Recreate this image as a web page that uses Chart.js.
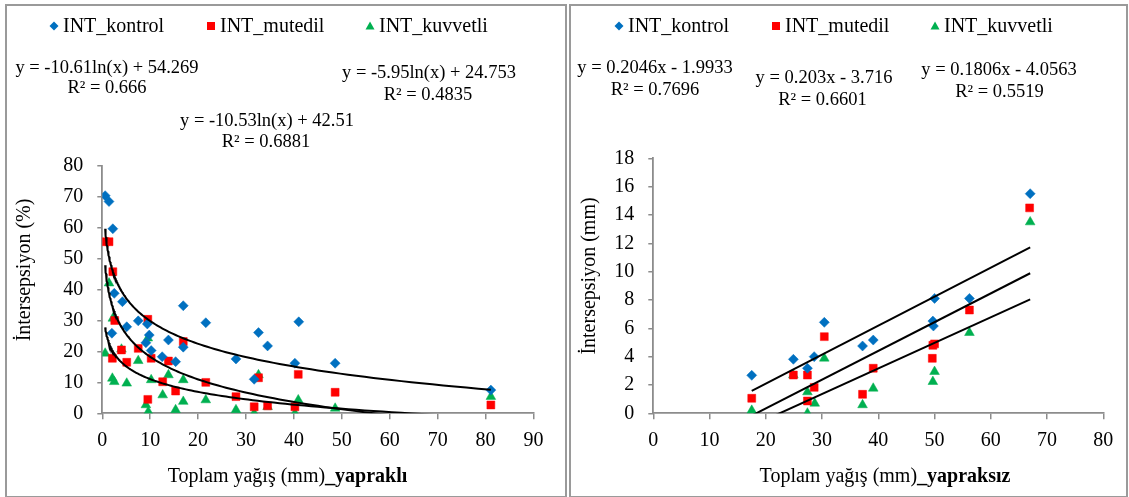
<!DOCTYPE html>
<html>
<head>
<meta charset="utf-8">
<script src="https://cdn.jsdelivr.net/npm/chart.js@4/dist/chart.umd.min.js"></script>
<style>
body{margin:0;background:#fff;}
#wrap{position:relative;width:1129px;height:497px;overflow:hidden;}
.panel{position:absolute;border:2px solid #9a9a9a;box-sizing:border-box;}
canvas{position:absolute;left:0;top:0;}
</style>
</head>
<body>
<div id="wrap">
  <div class="panel" style="left:5px;top:4px;width:562px;height:494px"></div>
  <div class="panel" style="left:569px;top:4px;width:559px;height:494px"></div>
  <canvas id="c1" width="1129" height="497"></canvas>
  <canvas id="c2" width="1129" height="497"></canvas>
</div>
<script>
// series names
const seriesNames = ['INT_kontrol', 'INT_mutedil', 'INT_kuvvetli'];

// --- yapraklı (left), intersepsiyon %
const kontrolX_L = [0.6, 1.4, 2.2, 2.5, 4.2, 2.0, 5.1, 7.5, 9.4, 9.8, 9.1, 10.2, 12.5, 15.3, 13.8, 16.9, 16.9, 21.6, 27.9, 32.6, 34.5, 31.7, 41.0, 40.2, 48.6, 81.1];
const kontrolY_L = [70.4, 68.5, 59.7, 38.8, 36.1, 25.9, 28.0, 29.9, 28.9, 25.3, 22.8, 20.3, 18.3, 16.7, 23.7, 34.8, 21.4, 29.3, 17.6, 26.1, 21.8, 11.0, 29.6, 16.2, 16.2, 7.5];
const mutedilX_L = [0.6, 1.4, 2.2, 2.6, 2.1, 4.0, 5.1, 7.5, 9.5, 10.2, 9.5, 12.6, 13.8, 15.3, 16.9, 21.6, 27.9, 31.7, 32.6, 34.5, 40.9, 40.2, 48.6, 81.1];
const mutedilY_L = [55.5, 55.5, 45.8, 30.0, 17.8, 20.5, 16.5, 21.0, 30.4, 17.8, 4.5, 10.2, 16.9, 7.2, 23.2, 10.0, 5.4, 2.1, 11.5, 2.4, 12.6, 2.1, 6.8, 2.7];
const kuvvetliX_L = [0.6, 1.4, 2.2, 2.1, 2.5, 4.0, 5.1, 7.5, 9.5, 10.2, 9.1, 9.6, 12.6, 13.8, 15.3, 16.9, 16.9, 21.6, 27.9, 31.7, 32.6, 34.5, 40.9, 40.2, 48.6, 81.1];
const kuvvetliY_L = [19.4, 42.1, 30.7, 11.3, 10.2, 20.7, 9.7, 17.0, 24.3, 10.8, 2.7, 0.5, 5.9, 12.4, 1.1, 10.8, 3.8, 4.3, 1.1, 0.0, 12.4, 2.1, 4.3, 0.0, 1.6, 5.4];
// logarithmic trend y = a ln(x) + b
const logA = [-10.61, -10.53, -5.95];
const logB = [54.269, 42.51, 24.753];
const eqL = ['y = -10.61ln(x) + 54.269', 'y = -10.53ln(x) + 42.51', 'y = -5.95ln(x) + 24.753'];
const r2L = ['R² = 0.666', 'R² = 0.6881', 'R² = 0.4835'];

// --- yapraksız (right), intersepsiyon mm
const kontrolX_R = [17.5, 24.9, 27.4, 28.6, 30.4, 37.2, 39.1, 50.0, 49.7, 49.8, 56.2, 67.0];
const kontrolY_R = [2.68, 3.81, 3.18, 4.0, 6.42, 4.75, 5.17, 8.11, 6.51, 6.16, 8.11, 15.5];
const mutedilX_R = [17.5, 24.9, 27.4, 27.4, 28.6, 30.4, 37.2, 39.1, 49.7, 50.0, 49.6, 56.2, 66.9];
const mutedilY_R = [1.06, 2.70, 2.70, 0.87, 1.83, 5.41, 1.34, 3.18, 4.8, 4.9, 3.88, 7.29, 14.5];
const kuvvetliX_R = [17.5, 24.9, 27.4, 27.4, 28.7, 30.4, 37.2, 39.1, 50.0, 49.7, 56.2, 67.0];
const kuvvetliY_R = [0.2, 2.7, 1.5, 0.0, 0.7, 3.88, 0.59, 1.76, 2.94, 2.23, 5.69, 13.5];
// linear trend y = m x + c
const linM = [0.2046, 0.203, 0.1806];
const linC = [-1.9933, -3.716, -4.0563];
const eqR = ['y = 0.2046x - 1.9933', 'y = 0.203x - 3.716', 'y = 0.1806x - 4.0563'];
const r2R = ['R² = 0.7696', 'R² = 0.6601', 'R² = 0.5519'];

const colors = ['#0070C0', '#FF0000', '#00B050'];
const shapes = ['rectRot', 'rect', 'triangle'];
const radii = [5, 5.6, 5.6];
const FONT = "'Liberation Serif', 'Times New Roman', serif";

function pts(xs, ys){ return xs.map((x,i)=>({x:x, y:ys[i]})); }

function logCurve(a, b, x0, x1){
  const out = [];
  for (let i=0;i<=150;i++){
    const x = x0*Math.pow(x1/x0, i/150);
    out.push({x:x, y:a*Math.log(x)+b});
  }
  return out;
}

function drawMarker(ctx, shape, x, y, color){
  ctx.fillStyle = color;
  ctx.beginPath();
  if (shape==='rectRot'){ ctx.moveTo(x,y-4.5); ctx.lineTo(x+4.5,y); ctx.lineTo(x,y+4.5); ctx.lineTo(x-4.5,y); }
  else if (shape==='rect'){ ctx.rect(x-4,y-4,8,8); }
  else { ctx.moveTo(x,y-4.5); ctx.lineTo(x+4.5,y+3.5); ctx.lineTo(x-4.5,y+3.5); }
  ctx.closePath();
  ctx.fill();
}

// texts drawn over each chart
function textPlugin(cfg){
  return {
    id:'texts',
    afterDraw(chart){
      const ctx = chart.ctx;
      ctx.save();
      ctx.fillStyle = '#000';
      ctx.textBaseline = 'middle';
      // legend
      ctx.font = '20px ' + FONT;
      ctx.textAlign = 'left';
      cfg.legendX.forEach((lx,i)=>{
        drawMarker(ctx, shapes[i], lx, 26, colors[i]);
        ctx.fillStyle = '#000';
        ctx.fillText(seriesNames[i], lx + 9, 27);
      });
      // equations
      ctx.font = '18.5px ' + FONT;
      ctx.textAlign = 'center';
      cfg.eqPos.forEach((p,i)=>{
        ctx.fillText(cfg.eq[i], p[0], p[1]);
        ctx.fillText(cfg.r2[i], p[2], p[3]);
      });
      // x title, mixed weight
      ctx.font = '20px ' + FONT;
      const w1 = ctx.measureText(cfg.xTitle[0]).width;
      ctx.font = 'bold 20px ' + FONT;
      const w2 = ctx.measureText(cfg.xTitle[1]).width;
      let sx = cfg.xTitlePos[0] - (w1+w2)/2;
      ctx.textAlign = 'left';
      ctx.font = '20px ' + FONT;
      ctx.fillText(cfg.xTitle[0], sx, cfg.xTitlePos[1]);
      ctx.font = 'bold 20px ' + FONT;
      ctx.fillText(cfg.xTitle[1], sx + w1, cfg.xTitlePos[1]);
      // y title
      ctx.font = '20px ' + FONT;
      ctx.translate(cfg.yTitlePos[0], cfg.yTitlePos[1]);
      ctx.rotate(-Math.PI/2);
      ctx.textAlign = 'center';
      ctx.fillText(cfg.yTitle, 0, 0);
      ctx.restore();
    }
  };
}

function makeChart(id, cfg){
  const datasets = [];
  cfg.trends.forEach(t=>{
    datasets.push({ data:t, showLine:true, borderColor:'#000', borderWidth:2,
      pointRadius:0, pointHoverRadius:0, fill:false, order:0 });
  });
  cfg.series.forEach((s,i)=>{
    datasets.push({ label:seriesNames[i], data:s, pointStyle:shapes[i], pointRadius:radii[i],
      backgroundColor:colors[i], borderColor:colors[i], pointBorderWidth:0.5, order:1 });
  });
  const tickFont = { family:FONT, size:20 };
  return new Chart(document.getElementById(id), {
    type:'scatter',
    data:{ datasets },
    options:{
      responsive:false,
      animation:false,
      layout:{ padding:{ left:0, top:cfg.area.top, right:1129-cfg.area.right, bottom:0 } },
      plugins:{ legend:{ display:false }, tooltip:{ enabled:false } },
      scales:{
        x:{ type:'linear', min:0, max:cfg.xMax,
          afterFit(s){ s.height = 497 - cfg.area.bottom; },
          grid:{ drawOnChartArea:false, tickLength:6, color:'#8c8c8c', lineWidth:1.5 },
          border:{ color:'#8c8c8c', width:1.8 },
          ticks:{ stepSize:10, font:tickFont, color:'#000', padding:9, maxRotation:0 } },
        y:{ type:'linear', min:0, max:cfg.yMax,
          afterFit(s){ s.width = cfg.area.left; },
          grid:{ drawOnChartArea:false, tickLength:5, color:'#8c8c8c', lineWidth:1.5 },
          border:{ color:'#8c8c8c', width:1.8 },
          ticks:{ stepSize:cfg.yStep, font:tickFont, color:'#000', padding:14 } }
      }
    },
    plugins:[ textPlugin(cfg) ]
  });
}

makeChart('c1', {
  area:{ left:102.3, right:533.5, top:166, bottom:413.3 },
  xMax:90, yMax:80, yStep:10,
  series:[ pts(kontrolX_L,kontrolY_L), pts(mutedilX_L,mutedilY_L), pts(kuvvetliX_L,kuvvetliY_L) ],
  trends: logA.map((a,i)=>logCurve(a, logB[i], 0.6, 81.1)),
  legendX:[54, 211, 370],
  eq:eqL, r2:r2L,
  eqPos:[[107,68,107,88],[267,121,266,142],[429,73,428,95]],
  xTitle:['Toplam yağış (mm)', '_yapraklı'], xTitlePos:[287.5, 477],
  yTitle:'İntersepsiyon (%)', yTitlePos:[25, 270]
});

makeChart('c2', {
  area:{ left:653.3, right:1103.3, top:158.3, bottom:413.3 },
  xMax:80, yMax:18, yStep:2,
  series:[ pts(kontrolX_R,kontrolY_R), pts(mutedilX_R,mutedilY_R), pts(kuvvetliX_R,kuvvetliY_R) ],
  trends: linM.map((m,i)=>[{x:17.5, y:m*17.5+linC[i]}, {x:67.0, y:m*67.0+linC[i]}]),
  legendX:[619, 776, 935],
  eq:eqR, r2:r2R,
  eqPos:[[655,68,655,90],[824,78,822.5,100],[999,70,999.5,92]],
  xTitle:['Toplam yağış (mm)', '_yapraksız'], xTitlePos:[885, 477],
  yTitle:'İntersepsiyon (mm)', yTitlePos:[590, 276]
});
</script>
</body>
</html>
